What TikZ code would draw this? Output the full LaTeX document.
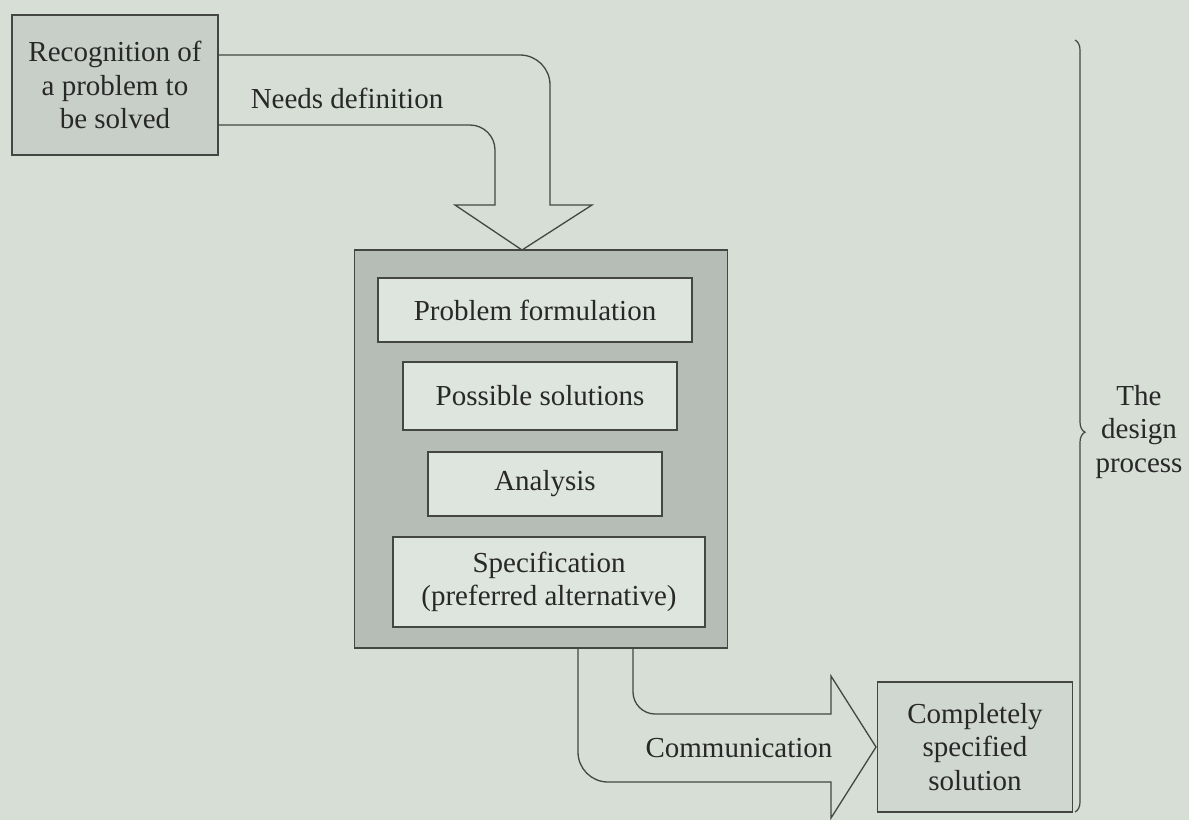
\documentclass[tikz,border=0pt]{standalone}
\usepackage{fontspec}
\setmainfont{Liberation Serif}
\usetikzlibrary{decorations.pathreplacing}
\definecolor{bgc}{RGB}{214,222,214}
\definecolor{linec}{RGB}{68,70,68}
\definecolor{textc}{RGB}{40,40,40}
\definecolor{recfill}{RGB}{200,206,200}
\definecolor{bigfill}{RGB}{182,188,182}
\definecolor{innerfill}{RGB}{222,228,222}
\definecolor{finfill}{RGB}{208,214,208}
\tikzset{
  boxst/.style={draw=linec, line width=1.3pt, inner sep=0pt, align=center, text=textc},
  blockarrow/.style={draw=linec, line width=1.3pt, line join=miter},
  labelst/.style={text=textc, inner sep=0pt, align=center}
}
\begin{document}
\begin{tikzpicture}[x=1pt,y=-1pt,font=\fontsize{29}{33.5}\selectfont]
\fill[bgc] (0,0) rectangle (1189,820);
\useasboundingbox (0,0) rectangle (1189,820);

% boxes
\node[boxst, fill=recfill, minimum width=206pt, minimum height=140pt] (rec) at (115,85)
  {Recognition of\\a problem to\\be solved};
\node[boxst, fill=bigfill, minimum width=373pt, minimum height=398pt] (frame) at (541,449) {};
\node[boxst, fill=innerfill, minimum width=314pt, minimum height=64pt] (pf) at (535,310) {Problem formulation};
\node[boxst, fill=innerfill, minimum width=274pt, minimum height=68pt] (ps) at (540,396) {Possible solutions};
\node[boxst, fill=innerfill, minimum width=234pt, minimum height=64pt] (an) at (545,484) {Analysis};
\node[boxst, fill=innerfill, minimum width=312pt, minimum height=90pt] (sp) at (549,582) {Specification\\(preferred alternative)};
\node[boxst, fill=finfill, minimum width=195pt, minimum height=130pt] (fin) at (975,747) {Completely\\specified\\solution};

% block arrow: needs definition
\draw[blockarrow] (218,55) -- (520,55) .. controls (536.6,55) and (550,68.4) .. (550,85)
  -- (550,205) -- (592,205) -- (522,250) -- (455,205) -- (495,205) -- (495,150)
  .. controls (495,136.2) and (483.8,125) .. (470,125) -- (218,125);
\node[labelst] (nd) at (347,98) {Needs definition};

% block arrow: communication
\draw[blockarrow] (578,648) -- (578,752) .. controls (578,768.6) and (591.4,782) .. (608,782)
  -- (831,782) -- (831,818) -- (876,747) -- (831,676) -- (831,714) -- (655,714)
  .. controls (643,714) and (633,704) .. (633,692) -- (633,648);
\node[labelst] (comm) at (739,748) {Communication};

% brace
\draw[linec, line width=1.2pt, decorate, decoration={brace, amplitude=10pt, aspect=0.508}] (1075,40) -- (1075,812);
\node[labelst] (dp) at (1139,432) {The\\design\\process};
\end{tikzpicture}
\end{document}
